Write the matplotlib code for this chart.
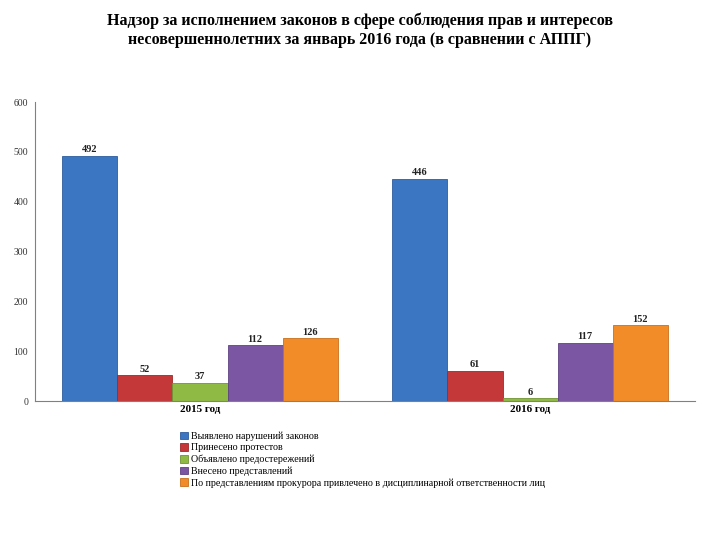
import numpy as np
import matplotlib
matplotlib.use("Agg")
from matplotlib import pyplot as plt

years = ["2015 год", "2016 год"]
series = [
    "Выявлено нарушений законов",
    "Принесено протестов",
    "Объявлено предостережений",
    "Внесено представлений",
    "По представлениям прокурора привлечено в дисциплинарной ответственности лиц",
]
values = [
    [492, 446],
    [52, 61],
    [37, 6],
    [112, 117],
    [126, 152],
]
colors = ["#3b76c2", "#c5383a", "#8fbb45", "#7b56a3", "#f28c28"]
edges = ["#2d5d9c", "#9e2a2a", "#6f9435", "#5f4282", "#c96f1c"]

title = ("Надзор за исполнением законов в сфере соблюдения прав и интересов\n"
         "несовершеннолетних за январь 2016 года (в сравнении с АППГ)")

plt.rcParams['font.family'] = ['Liberation Serif', 'DejaVu Serif']

fig = plt.figure(figsize=(7.2, 5.4), dpi=100)
ax = fig.add_axes([0.0486, 0.2574, 0.9167, 0.5536])

x = np.arange(len(years))
w = 0.1667
for i, (name, vals) in enumerate(zip(series, values)):
    pos = x + (i - 2) * w
    ax.bar(pos, vals, width=w, color=colors[i], edgecolor=edges[i],
           linewidth=0.6, label=name)
    for px, v in zip(pos, vals):
        ax.text(px, v + 3, str(v), ha="center", va="bottom",
                fontsize=7.5, fontweight="bold", color="#222222")

ax.set_xlim(-0.5, 1.5)
ax.set_ylim(0, 600)
ax.set_yticks(range(0, 601, 100))
ax.tick_params(axis="y", length=0, labelsize=7, colors="#333333", pad=5)
ax.set_xticks(x)
ax.set_xticklabels(years, fontsize=8, fontweight="bold")
ax.tick_params(axis="x", length=0, pad=3)
for s in ["top", "right"]:
    ax.spines[s].set_visible(False)
ax.spines["left"].set_color("#808080")
ax.spines["bottom"].set_color("#808080")

fig.text(0.5, 0.944, title, ha="center", va="center", fontsize=11.5,
         fontweight="bold", linespacing=1.2)

fig.legend(loc="upper left", bbox_to_anchor=(0.25, 0.201), frameon=False,
           fontsize=7.2, handlelength=0.8, handleheight=0.8, handletextpad=0.3,
           labelspacing=0.22, borderaxespad=0, borderpad=0)

fig.savefig("out.png", dpi=100)
